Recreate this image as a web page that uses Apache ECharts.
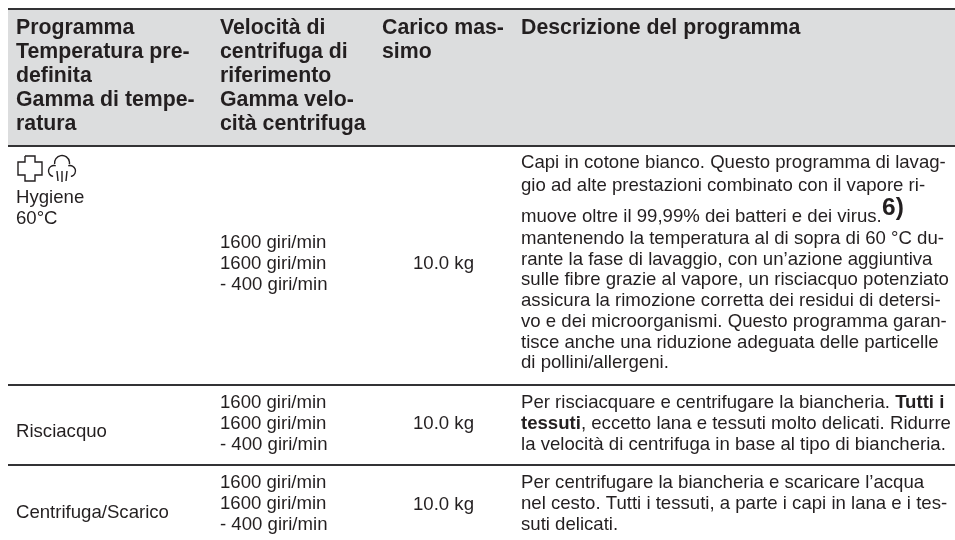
<!DOCTYPE html>
<html><head><meta charset="utf-8">
<style>html,body{margin:0;padding:0;background:#fff}#c{width:955px;height:540px}</style>
<script src="https://cdn.jsdelivr.net/npm/echarts@6/dist/echarts.min.js"></script>
</head><body><div id="c"></div>
<script>
const headerProgramma = ['Programma','Temperatura pre-','definita','Gamma di tempe-','ratura'];
const headerVelocita = ['Velocità di','centrifuga di','riferimento','Gamma velo-','cità centrifuga'];
const headerCarico = ['Carico mas-','simo'];
const headerDescrizione = ['Descrizione del programma'];
const programmi = [['Hygiene','60°C'],['Risciacquo'],['Centrifuga/Scarico']];
const velocita = ['1600 giri/min','1600 giri/min','- 400 giri/min'];
const carico = '10.0 kg';
const notaHygiene = '6)';
const descrizioneHygiene = [
 'Capi in cotone bianco. Questo programma di lavag-',
 'gio ad alte prestazioni combinato con il vapore ri-',
 'muove oltre il 99,99% dei batteri e dei virus.',
 'mantenendo la temperatura al di sopra di 60 °C du-',
 'rante la fase di lavaggio, con un’azione aggiuntiva',
 'sulle fibre grazie al vapore, un risciacquo potenziato',
 'assicura la rimozione corretta dei residui di detersi-',
 'vo e dei microorganismi. Questo programma garan-',
 'tisce anche una riduzione adeguata delle particelle',
 'di pollini/allergeni.'];
const descrizioneRisciacquo = [
 'Per risciacquare e centrifugare la biancheria. {c|Tutti i}',
 '{c|tessuti}, eccetto lana e tessuti molto delicati. Ridurre',
 'la velocità di centrifuga in base al tipo di biancheria.'];
const descrizioneCentrifuga = [
 'Per centrifugare la biancheria e scaricare l’acqua',
 'nel cesto. Tutti i tessuti, a parte i capi in lana e i tes-',
 'suti delicati.'];

const INK='#231f20', RULE='#333335', FONT='"Liberation Sans", Arial, sans-serif';
const els=[];
function txt(s,x,y,bold,size){
  els.push({type:'text',x:x,y:y,style:{text:s,fill:INK,font:(bold?'bold ':'')+size+'px '+FONT,
    textVerticalAlign:'middle',
    rich:{c:{fontWeight:'bold',fontSize:size,fontFamily:'Liberation Sans',fill:INK}}}});
}
function lines(arr,x,ys,bold,size){arr.forEach((s,i)=>txt(s,x,ys[i],bold,size));}
function rule(y){els.push({type:'rect',shape:{x:8,y:y,width:947,height:2},style:{fill:RULE}});}

els.push({type:'rect',shape:{x:8,y:9,width:947,height:136},style:{fill:'#dcddde'}});
rule(8);rule(145);rule(384);rule(464);
const hy=[28,52,76,100,124];
const HS=21.3;
lines(headerProgramma,16,hy,true,HS);
lines(headerVelocita,220,hy,true,HS);
lines(headerCarico,382,hy,true,HS);
lines(headerDescrizione,521,hy,true,HS);

// icons
const iconStyle={fill:'none',stroke:INK,lineWidth:1.4};
els.push({type:'polyline',shape:{points:[[25,156],[35,156],[35,162],[42,162],[42,175],[35,175],[35,181],[25,181],[25,175],[18,175],[18,162],[25,162],[25,156]]},style:iconStyle});
els.push({type:'arc',shape:{cx:54,cy:171,r:5.5,startAngle:Math.PI*0.55,endAngle:Math.PI*1.6},style:iconStyle});
els.push({type:'arc',shape:{cx:62,cy:163,r:7.5,startAngle:Math.PI*0.95,endAngle:Math.PI*2.05},style:iconStyle});
els.push({type:'arc',shape:{cx:70,cy:171,r:5.5,startAngle:Math.PI*1.4,endAngle:Math.PI*2.45},style:iconStyle});
[[[57,171],[58,181]],[[62,171],[62,182]],[[67,171],[66,181]]].forEach(p=>els.push({type:'line',shape:{x1:p[0][0],y1:p[0][1],x2:p[1][0],y2:p[1][1]},style:iconStyle}));

const BS=18.6;
lines(programmi[0],16,[198,219],false,BS);
lines(velocita,220,[243,264,285],false,BS);
txt(carico,413,264,false,BS);
lines(descrizioneHygiene,521,[163,186,217,239,260,280,301,322,343,363],false,BS);
txt(notaHygiene,882,208.5,true,24.5);

lines(programmi[1],16,[432],false,BS);
lines(velocita,220,[403,424,445],false,BS);
txt(carico,413,424,false,BS);
lines(descrizioneRisciacquo,521,[403,424,445],false,BS);

lines(programmi[2],16,[513],false,BS);
lines(velocita,220,[483,504,525],false,BS);
txt(carico,413,505,false,BS);
lines(descrizioneCentrifuga,521,[483,504,525],false,BS);

const chart=echarts.init(document.getElementById('c'),null,{renderer:'canvas'});
chart.setOption({animation:false,graphic:{elements:els}});
</script></body></html>
